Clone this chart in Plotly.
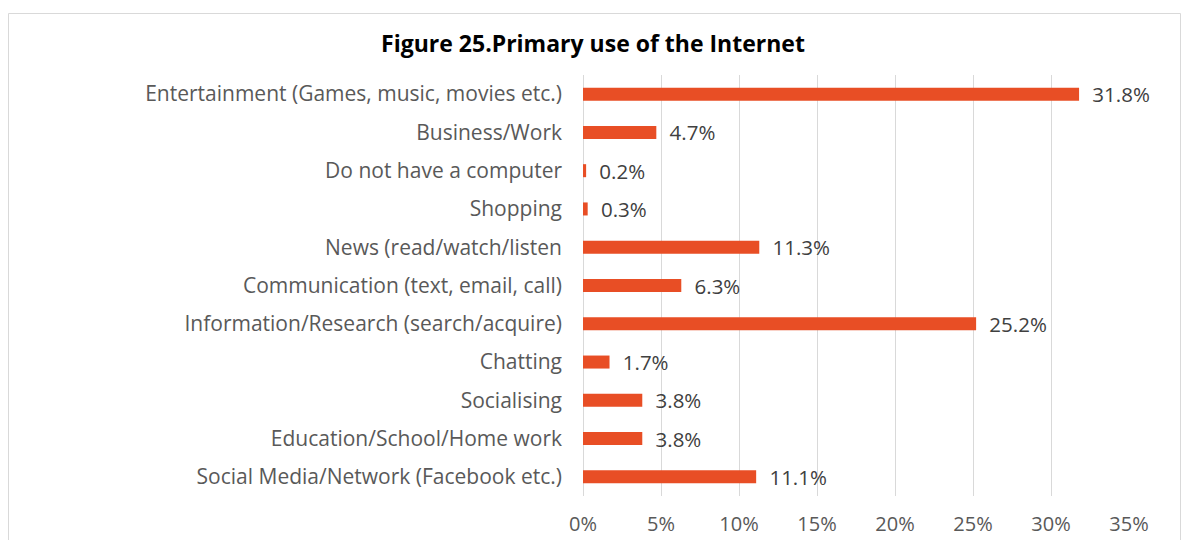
import plotly.graph_objects as go

# Survey categories (top to bottom) and their shares in percent
categories = [
    "Entertainment (Games, music, movies etc.)",
    "Business/Work",
    "Do not have a computer",
    "Shopping",
    "News (read/watch/listen",
    "Communication (text, email, call)",
    "Information/Research (search/acquire)",
    "Chatting",
    "Socialising",
    "Education/School/Home work",
    "Social Media/Network (Facebook etc.)",
]
shares = [31.8, 4.7, 0.2, 0.3, 11.3, 6.3, 25.2, 1.7, 3.8, 3.8, 11.1]
tick_values = [0, 5, 10, 15, 20, 25, 30, 35]
tick_labels = [f"{v}%" for v in tick_values]

FONT = "'Open Sans', Lato, sans-serif"
BAR_COLOR = "#E84E25"

fig = go.Figure(
    go.Bar(
        x=shares,
        y=categories,
        orientation="h",
        marker=dict(color=BAR_COLOR, line=dict(width=0)),
        width=0.34,
        text=[f"\u2002{v:.1f}%" for v in shares],
        textposition="outside",
        constraintext="none",
        textfont=dict(size=20.5, color="#404040", family=FONT),
        cliponaxis=False,
    )
)

# plot area geometry in pixels
W, H = 1181, 540
L, R, T, B = 583, 52, 75, 44
pw, ph = W - L - R, H - T - B


def px_x(x):
    return (x - L) / pw


def px_y(y):
    return (H - B - y) / ph


# light frame around the whole chart
fig.add_shape(
    type="rect", xref="paper", yref="paper",
    x0=px_x(8.5), x1=px_x(1180.5), y0=px_y(560), y1=px_y(13.5),
    line=dict(color="#D9D9D9", width=1), fillcolor="rgba(0,0,0,0)",
    layer="below",
)

fig.update_layout(
    width=W, height=H,
    margin=dict(l=L, r=R, t=T, b=B, autoexpand=False),
    paper_bgcolor="white", plot_bgcolor="white",
    showlegend=False,
    title=dict(
        text="<b>Figure 25.Primary use of the Internet</b>",
        x=593 / W, xanchor="center",
        y=1 - 44 / H, yanchor="middle",
        font=dict(size=23, color="#000000", family=FONT),
    ),
    xaxis=dict(
        range=[0, 35],
        tickvals=tick_values,
        ticktext=tick_labels,
        automargin=False,
        showgrid=True, gridcolor="#D9D9D9", gridwidth=1,
        zeroline=True, zerolinecolor="#D9D9D9", zerolinewidth=1,
        showline=False, ticks="",
        tickfont=dict(size=20, color="#595959", family=FONT),
        ticklabelstandoff=14,
    ),
    yaxis=dict(
        autorange="reversed",
        automargin=False,
        showgrid=False, showline=False, ticks="",
        tickfont=dict(size=21, color="#595959", family=FONT),
        ticklabelstandoff=20,
    ),
)

fig.write_html("out.html")
